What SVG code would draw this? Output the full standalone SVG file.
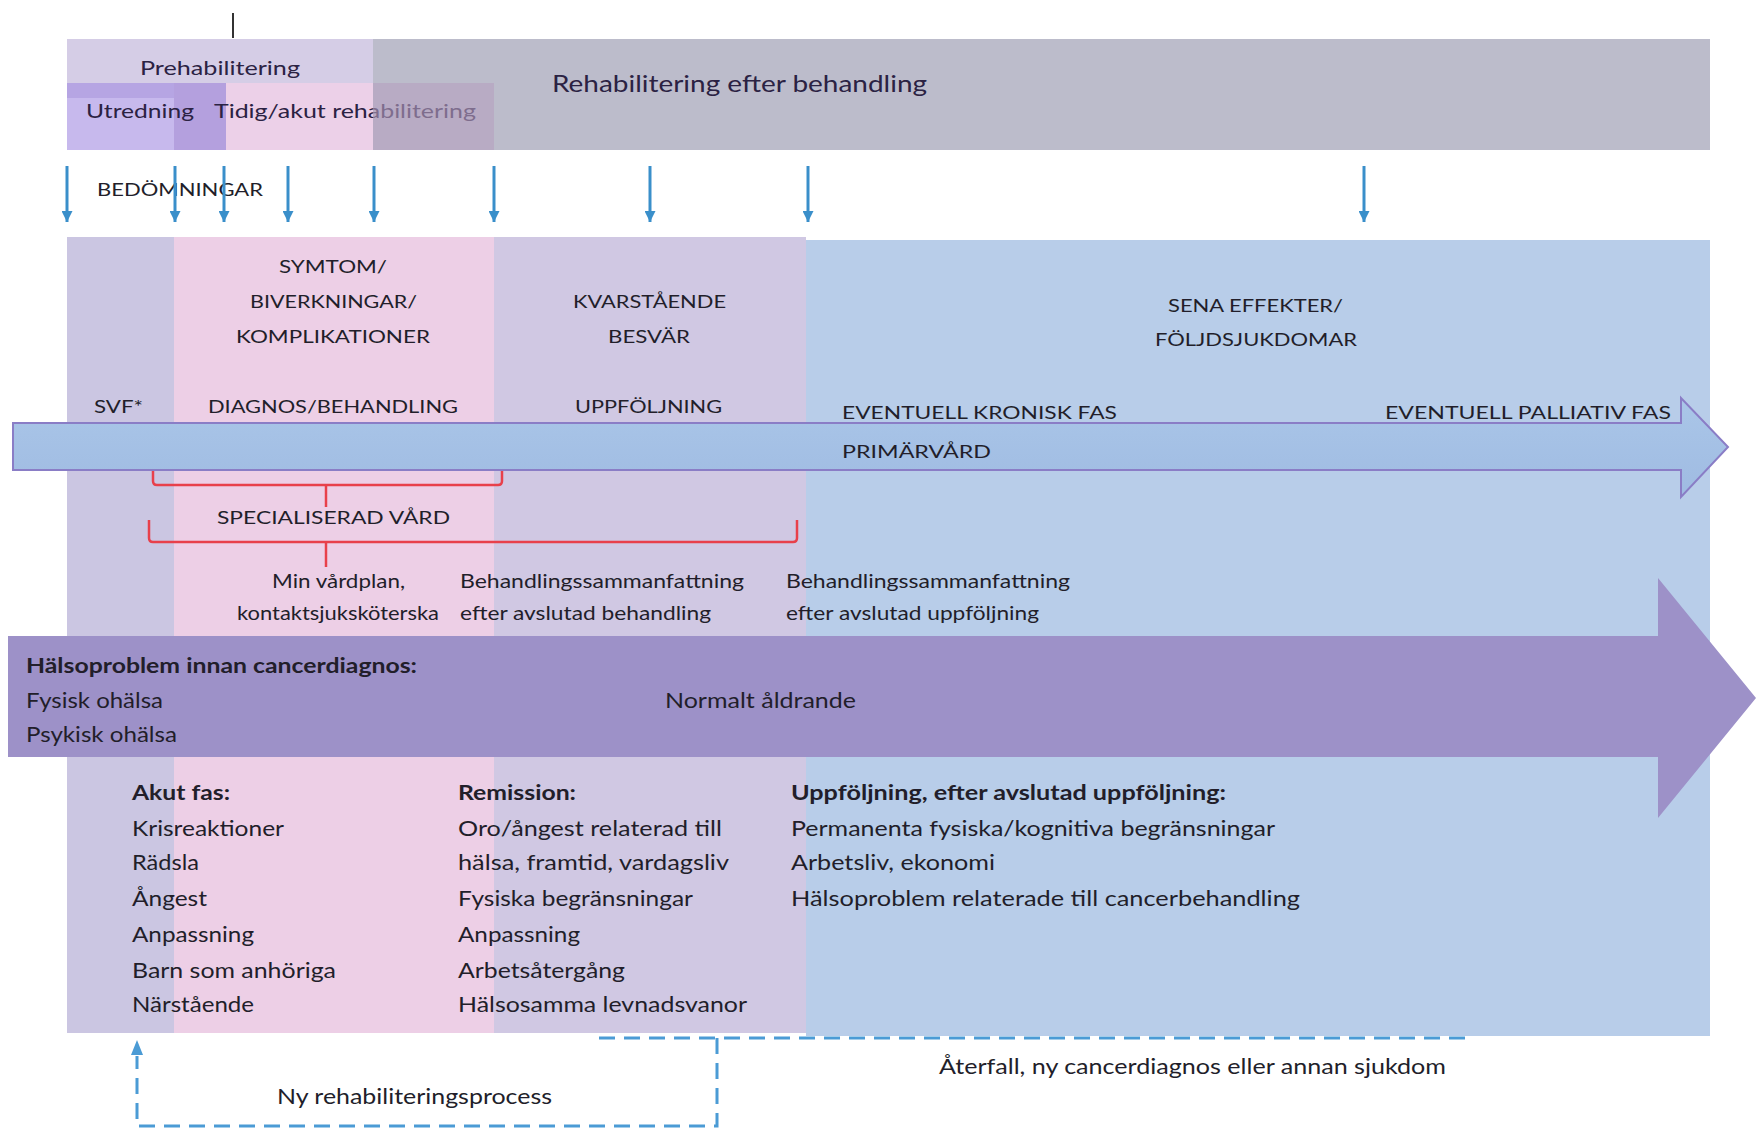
<svg xmlns="http://www.w3.org/2000/svg" width="1756" height="1129" viewBox="0 0 1756 1129">
  <defs>
    <style>
      .t { font-family: Lato, "Open Sans", "Liberation Sans", sans-serif; fill: #221e2a; }
      .top { font-size: 20px; fill: #2b2243; }
      .cap { font-size: 18px; }
      .body { font-size: 21px; }
      .b { font-weight: bold; }
      .down { stroke: #3a8fca; stroke-width: 3; fill: none; marker-end: url(#ah); }
      .red { stroke: #e8404b; stroke-width: 2.5; fill: none; }
      .dash { stroke: #4b9bd5; stroke-width: 3; fill: none; stroke-dasharray: 16 9; }
    </style>
    <marker id="ah" viewBox="0 0 10 10" refX="10" refY="5" markerWidth="11" markerHeight="11" markerUnits="userSpaceOnUse" orient="auto">
      <path d="M0,0 L10,5 L0,10 z" fill="#3a8fca"/>
    </marker>
    <linearGradient id="gBlue" x1="0" y1="0" x2="0" y2="1">
      <stop offset="0" stop-color="#aac6e8"/>
      <stop offset="1" stop-color="#9fbbe2"/>
    </linearGradient>
  </defs>
  <rect width="1756" height="1129" fill="#ffffff"/>

  <!-- top header band -->
  <g id="header">
    <line x1="233" y1="13" x2="233" y2="38" stroke="#333" stroke-width="2"/>
    <rect x="67" y="39" width="1643" height="111" fill="#bcbccb"/>
    <rect x="67" y="39" width="306" height="111" fill="#d5cde6"/>
    <rect x="67" y="83" width="107" height="67" fill="#c7b9ed"/>
    <rect x="67" y="83" width="107" height="15" fill="#b6a5e3"/>
    <rect x="174" y="83" width="52" height="67" fill="#b4a0de"/>
    <rect x="226" y="83" width="147" height="67" fill="#ecd0e8"/>
    <text class="t top" x="140" y="75" textLength="160" lengthAdjust="spacingAndGlyphs">Prehabilitering</text>
    <text class="t top" x="552" y="92" style="font-size:23px" textLength="375" lengthAdjust="spacingAndGlyphs">Rehabilitering efter behandling</text>
    <text class="t top" x="86" y="118" textLength="108" lengthAdjust="spacingAndGlyphs">Utredning</text>
    <text class="t top" x="214" y="118" textLength="262" lengthAdjust="spacingAndGlyphs">Tidig/akut rehabilitering</text>
    <rect x="373" y="83" width="121" height="67" fill="#b5a0c0" opacity="0.6"/>
  </g>

  <g id="bedomningar">
    <text class="t cap" x="97" y="196" textLength="166" lengthAdjust="spacingAndGlyphs">BEDÖMNINGAR</text>
  </g>

  <!-- phase columns -->
  <g id="columns">
    <rect x="67" y="237" width="107" height="796" fill="#cbc6e2"/>
    <rect x="174" y="237" width="320" height="796" fill="#edcfe6"/>
    <rect x="494" y="237" width="312" height="796" fill="#d0c8e3"/>
    <rect x="806" y="240" width="904" height="796" fill="#b8cde9"/>
  </g>

  <g id="column-headers">
    <text class="t cap" x="279" y="273" textLength="108" lengthAdjust="spacingAndGlyphs">SYMTOM/</text>
    <text class="t cap" x="250" y="308" textLength="167" lengthAdjust="spacingAndGlyphs">BIVERKNINGAR/</text>
    <text class="t cap" x="236" y="343" textLength="194" lengthAdjust="spacingAndGlyphs">KOMPLIKATIONER</text>
    <text class="t cap" x="573" y="308" textLength="153" lengthAdjust="spacingAndGlyphs">KVARSTÅENDE</text>
    <text class="t cap" x="608" y="343" textLength="82" lengthAdjust="spacingAndGlyphs">BESVÄR</text>
    <text class="t cap" x="1168" y="312" textLength="175" lengthAdjust="spacingAndGlyphs">SENA EFFEKTER/</text>
    <text class="t cap" x="1155" y="346" textLength="202" lengthAdjust="spacingAndGlyphs">FÖLJDSJUKDOMAR</text>
    <text class="t cap" x="94" y="413" textLength="49" lengthAdjust="spacingAndGlyphs">SVF*</text>
    <text class="t cap" x="208" y="413" textLength="250" lengthAdjust="spacingAndGlyphs">DIAGNOS/BEHANDLING</text>
    <text class="t cap" x="575" y="413" textLength="147" lengthAdjust="spacingAndGlyphs">UPPFÖLJNING</text>
    <text class="t cap" x="842" y="419" textLength="275" lengthAdjust="spacingAndGlyphs">EVENTUELL  KRONISK FAS</text>
    <text class="t cap" x="1385" y="419" textLength="286" lengthAdjust="spacingAndGlyphs">EVENTUELL  PALLIATIV FAS</text>
  </g>

  <!-- primary care arrow -->
  <g id="primarvard-arrow">
    <path d="M13,423 H1681 V398 L1728,447 L1681,497 V470 H13 Z" fill="url(#gBlue)" stroke="#8a7dc6" stroke-width="2"/>
    <text class="t cap" x="842" y="458" textLength="149" lengthAdjust="spacingAndGlyphs">PRIMÄRVÅRD</text>
  </g>

  <g id="specialiserad">
    <text class="t cap" x="217" y="524" textLength="233" lengthAdjust="spacingAndGlyphs">SPECIALISERAD VÅRD</text>
  </g>

  <g id="documents">
    <text class="t body" style="font-size:19px" x="272" y="588" textLength="133" lengthAdjust="spacingAndGlyphs">Min vårdplan,</text>
    <text class="t body" style="font-size:19px" x="237" y="620" textLength="202" lengthAdjust="spacingAndGlyphs">kontaktsjuksköterska</text>
    <text class="t body" style="font-size:19px" x="460" y="588" textLength="284" lengthAdjust="spacingAndGlyphs">Behandlingssammanfattning</text>
    <text class="t body" style="font-size:19px" x="460" y="620" textLength="251" lengthAdjust="spacingAndGlyphs">efter avslutad behandling</text>
    <text class="t body" style="font-size:19px" x="786" y="588" textLength="284" lengthAdjust="spacingAndGlyphs">Behandlingssammanfattning</text>
    <text class="t body" style="font-size:19px" x="786" y="620" textLength="253" lengthAdjust="spacingAndGlyphs">efter avslutad uppföljning</text>
  </g>

  <!-- health arrow -->
  <g id="halsa-arrow">
    <path d="M8,636 H1658 V578 L1756,698 L1658,818 V757 H8 Z" fill="#9d91c8"/>
    <text class="t body b" x="26" y="673" textLength="391" lengthAdjust="spacingAndGlyphs">Hälsoproblem  innan cancerdiagnos:</text>
    <text class="t body" x="26" y="708" textLength="137" lengthAdjust="spacingAndGlyphs">Fysisk ohälsa</text>
    <text class="t body" x="26" y="742" textLength="151" lengthAdjust="spacingAndGlyphs">Psykisk ohälsa</text>
    <text class="t body" x="665" y="708" textLength="191" lengthAdjust="spacingAndGlyphs">Normalt åldrande</text>
  </g>

  <g id="akut-fas">
    <text class="t body b" x="132" y="800" textLength="98" lengthAdjust="spacingAndGlyphs">Akut fas:</text>
    <text class="t body" x="132" y="836" textLength="152" lengthAdjust="spacingAndGlyphs">Krisreaktioner</text>
    <text class="t body" x="132" y="870" textLength="67" lengthAdjust="spacingAndGlyphs">Rädsla</text>
    <text class="t body" x="132" y="906" textLength="75" lengthAdjust="spacingAndGlyphs">Ångest</text>
    <text class="t body" x="132" y="942" textLength="122" lengthAdjust="spacingAndGlyphs">Anpassning</text>
    <text class="t body" x="132" y="978" textLength="204" lengthAdjust="spacingAndGlyphs">Barn som anhöriga</text>
    <text class="t body" x="132" y="1012" textLength="122" lengthAdjust="spacingAndGlyphs">Närstående</text>
  </g>

  <g id="remission">
    <text class="t body b" x="458" y="800" textLength="118" lengthAdjust="spacingAndGlyphs">Remission:</text>
    <text class="t body" x="458" y="836" textLength="264" lengthAdjust="spacingAndGlyphs">Oro/ångest relaterad till</text>
    <text class="t body" x="458" y="870" textLength="271" lengthAdjust="spacingAndGlyphs">hälsa, framtid, vardagsliv</text>
    <text class="t body" x="458" y="906" textLength="235" lengthAdjust="spacingAndGlyphs">Fysiska begränsningar</text>
    <text class="t body" x="458" y="942" textLength="122" lengthAdjust="spacingAndGlyphs">Anpassning</text>
    <text class="t body" x="458" y="978" textLength="167" lengthAdjust="spacingAndGlyphs">Arbetsåtergång</text>
    <text class="t body" x="458" y="1012" textLength="289" lengthAdjust="spacingAndGlyphs">Hälsosamma  levnadsvanor</text>
  </g>

  <g id="uppfoljning">
    <text class="t body b" x="791" y="800" textLength="435" lengthAdjust="spacingAndGlyphs">Uppföljning,  efter avslutad  uppföljning:</text>
    <text class="t body" x="791" y="836" textLength="484" lengthAdjust="spacingAndGlyphs">Permanenta fysiska/kognitiva  begränsningar</text>
    <text class="t body" x="791" y="870" textLength="204" lengthAdjust="spacingAndGlyphs">Arbetsliv, ekonomi</text>
    <text class="t body" x="791" y="906" textLength="509" lengthAdjust="spacingAndGlyphs">Hälsoproblem  relaterade till cancerbehandling</text>
  </g>

  <g id="loop-labels">
    <text class="t body" x="277" y="1104" textLength="275" lengthAdjust="spacingAndGlyphs">Ny rehabiliteringsprocess</text>
    <text class="t body" x="939" y="1074" textLength="507" lengthAdjust="spacingAndGlyphs">Återfall, ny cancerdiagnos eller annan sjukdom</text>
  </g>

  <!-- connectors -->
  <g id="connectors">
    <line class="down" x1="67" y1="166" x2="67" y2="222"/>
    <line class="down" x1="175" y1="166" x2="175" y2="222"/>
    <line class="down" x1="224" y1="166" x2="224" y2="222"/>
    <line class="down" x1="288" y1="166" x2="288" y2="222"/>
    <line class="down" x1="374" y1="166" x2="374" y2="222"/>
    <line class="down" x1="494" y1="166" x2="494" y2="222"/>
    <line class="down" x1="650" y1="166" x2="650" y2="222"/>
    <line class="down" x1="808" y1="166" x2="808" y2="222"/>
    <line class="down" x1="1364" y1="166" x2="1364" y2="222"/>

    <path class="red" d="M153,471 V481 Q153,485 157,485 H498 Q502,485 502,481 V471"/>
    <path class="red" d="M326,485 V507"/>
    <path class="red" d="M149,520 V538 Q149,542 153,542 H793 Q797,542 797,538 V520"/>
    <path class="red" d="M326,542 V567"/>

    <path class="dash" d="M599,1038 H1474"/>
    <path class="dash" d="M717,1038 V1126 H137 V1056"/>
    <path d="M137,1040 L131,1055 L143,1055 Z" fill="#4b9bd5"/>
  </g>
</svg>
